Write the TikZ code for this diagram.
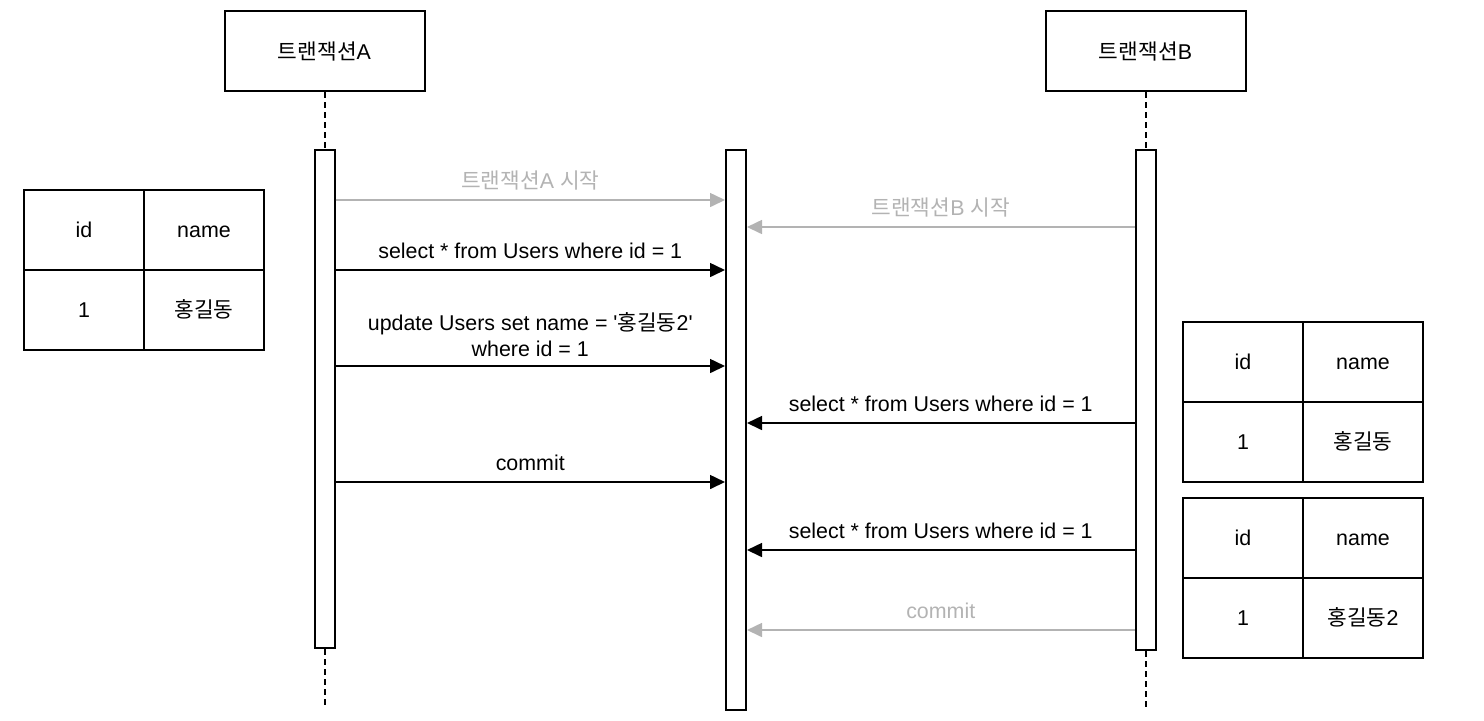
\documentclass[tikz,border=0pt]{standalone}
\usepackage{fontspec}
\setmainfont{Liberation Sans}
\newfontfamily\kr{Noto Sans CJK KR}
\usetikzlibrary{arrows.meta,positioning}
\definecolor{lightmsg}{HTML}{B3B3B3}
\tikzset{
  actor/.style={draw,line width=1pt,minimum width=100pt,minimum height=40pt,inner sep=0pt},
  bar/.style={draw,line width=1pt,fill=white,minimum width=10pt,inner sep=0pt},
  life/.style={line width=1pt,dash pattern=on 3pt off 2pt},
  msg/.style={line width=0.8pt,-{Triangle[length=7.5pt,width=7pt]}},
  startmsg/.style={msg,draw=lightmsg,fill=lightmsg},
  lbl/.style={midway,anchor=base,yshift=6pt,inner sep=0pt},
  cell/.style={draw,line width=1pt,minimum width=60pt,minimum height=40pt,inner sep=0pt,outer sep=0pt,
    text height=7.7pt,text depth=0pt},
}
\begin{document}
\begin{tikzpicture}[x=0.5pt,y=-0.5pt,font=\fontsize{10.7}{13}\selectfont]
\useasboundingbox (0,0) rectangle (1484,720);
% 트랜잭션 헤더와 활성 막대
\node[actor](hdrA) at (324.5,51){{\kr 트랜잭션}A};
\node[actor](hdrB) at (1145.5,51){{\kr 트랜잭션}B};
\node[bar,minimum height=249pt](barA) at (324.5,399){};
\node[bar,minimum height=280pt](barM) at (736,430){};
\node[bar,minimum height=250pt](barB) at (1145.5,400){};
\coordinate(endA) at (324.5,708);
\coordinate(endB) at (1145.5,708);
\draw[life](hdrA)--(barA);
\draw[life](barA)--(endA);
\draw[life](hdrB)--(barB);
\draw[life](barB)--(endB);
% 메시지 높이
\foreach \m/\y in {1/200,2/227,3/270,4/366,5/423,6/482,7/550,8/630}
  \coordinate(m\m) at (0,\y);
\draw[startmsg](barA.east|-m1)--(barM.west|-m1)node[lbl,text=lightmsg]{{\kr 트랜잭션}A {\kr 시작}};
\draw[startmsg](barB.west|-m2)--(barM.east|-m2)node[lbl,text=lightmsg]{{\kr 트랜잭션}B {\kr 시작}};
\draw[msg](barA.east|-m3)--(barM.west|-m3)node[lbl]{select * from Users where id = 1};
\draw[msg](barA.east|-m4)--(barM.west|-m4)node[midway,anchor=south,yshift=4.5pt,inner sep=0pt,align=center]
  {update Users set name = \textquotesingle{\kr 홍길동}2\textquotesingle\\where id = 1};
\draw[msg](barB.west|-m5)--(barM.east|-m5)node[lbl]{select * from Users where id = 1};
\draw[msg](barA.east|-m6)--(barM.west|-m6)node[lbl]{commit};
\draw[msg](barB.west|-m7)--(barM.east|-m7)node[lbl]{select * from Users where id = 1};
\draw[startmsg](barB.west|-m8)--(barM.east|-m8)node[lbl,text=lightmsg]{commit};
% Users 테이블
\foreach \t/\px/\py/\nm in {L/84/230/{{\kr 홍길동}},R/1243/362/{{\kr 홍길동}},S/1243/538/{{\kr 홍길동}2}}{
  \node[cell](\t id) at (\px,\py){id};
  \node[cell,right=0pt of \t id](\t name){name};
  \node[cell,below=0pt of \t id](\t idv){1};
  \node[cell,below=0pt of \t name](\t namev){\nm};
}
\end{tikzpicture}
\end{document}
